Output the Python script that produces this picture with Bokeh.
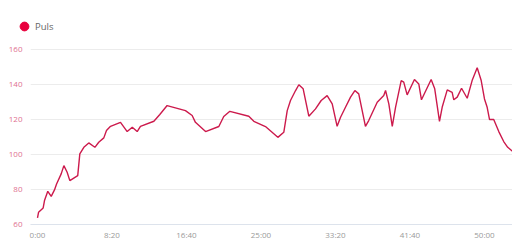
from bokeh.plotting import figure
from bokeh.layouts import column
from bokeh.models import ColumnDataSource, FixedTicker, Legend, LegendItem, Range1d
from bokeh.embed import file_html
from bokeh.resources import INLINE

# elapsed time in seconds
time_s = [0, 7, 38, 47, 69, 92, 114, 128, 159, 177, 199, 217, 270, 284, 311, 344, 385,
          411, 445, 463, 490, 557, 602, 636, 669, 691, 781, 821, 870, 993, 1038, 1060,
          1128, 1217, 1250, 1291, 1418, 1452, 1530, 1613, 1653, 1676, 1698, 1732, 1754,
          1783, 1821, 1866, 1904, 1944, 1978, 2011, 2034, 2067, 2101, 2130, 2156, 2201,
          2223, 2280, 2324, 2336, 2358, 2381, 2403, 2441, 2458, 2481, 2530, 2559, 2577,
          2642, 2666, 2698, 2716, 2750, 2783, 2794, 2817, 2846, 2884, 2917, 2951, 2978,
          3000, 3018, 3034, 3062, 3096, 3129, 3156, 3188]
# pulse (bpm)
pulse = [63.6, 66.8, 69.3, 73.5, 78.8, 75.9, 79.6, 83.0, 88.8, 93.5, 89.7, 84.9, 87.8,
         100.2, 104.0, 106.5, 104.0, 106.9, 109.4, 113.6, 116.0, 118.3, 113.0, 115.5,
         113.0, 116.0, 118.9, 122.8, 127.9, 125.0, 122.2, 118.3, 113.0, 115.9, 121.6,
         124.6, 121.8, 118.9, 115.9, 109.7, 112.6, 125.0, 130.8, 136.5, 139.8, 137.5,
         121.8, 126.0, 130.8, 133.6, 128.9, 116.0, 121.2, 126.9, 132.7, 136.5, 134.6,
         116.0, 119.3, 129.8, 133.6, 136.5, 128.9, 116.0, 126.9, 142.2, 141.3, 134.0,
         142.8, 140.3, 131.2, 142.8, 137.5, 118.9, 126.9, 136.9, 135.5, 131.2, 132.7,
         137.8, 132.1, 142.2, 149.5, 142.2, 131.7, 126.9, 119.9, 119.9, 113.0, 107.3,
         104.0, 101.7]

x_ticks = [0, 500, 1000, 1500, 2000, 2500, 3000]
x_tick_labels = ["0:00", "8:20", "16:40", "25:00", "33:20", "41:40", "50:00"]
y_ticks = [60, 80, 100, 120, 140, 160]
series_name = "Puls"

src = ColumnDataSource(dict(t=time_s, v=pulse))

# ---- legend strip ----
lg = figure(width=512, height=40, output_backend="svg", toolbar_location=None,
            x_axis_location=None, y_axis_location=None,
            x_range=Range1d(-47, 3188), y_range=Range1d(0, 1),
            min_border_left=0, min_border_right=0, min_border_top=0, min_border_bottom=0)
lg.outline_line_color = None
lg.xgrid.visible = False
lg.ygrid.visible = False
aligned = True
if "frame_align" in lg.properties():
    lg.frame_align = False
    aligned = False
dot = lg.scatter("t", "v", source=src, marker="circle", size=9,
                 fill_color="#e8003d", line_color="#e8003d")
dot.visible = False
legend = Legend(items=[LegendItem(label=series_name, renderers=[dot])],
                location=((-6, 3) if aligned else (13, 3)), orientation="horizontal",
                glyph_width=22, glyph_height=22, label_height=22,
                label_standoff=-4, padding=0, margin=0, spacing=0,
                border_line_color=None, background_fill_alpha=0,
                label_text_font="Open Sans", label_text_font_size="9.5px",
                label_text_color="#666666")
lg.add_layout(legend, "center")

# ---- chart ----
p = figure(width=512, height=207, output_backend="svg", toolbar_location=None,
           x_range=Range1d(-47, 3188), y_range=Range1d(59.8, 165.15),
           min_border_left=30, min_border_right=0, min_border_top=0, min_border_bottom=23)
p.outline_line_color = None
p.background_fill_color = "white"
p.border_fill_color = "white"

p.line("t", "v", source=src, line_color="#cc1a4c", line_width=1.4)

p.xgrid.visible = False
p.ygrid.grid_line_color = "#ececec"
p.ygrid.grid_line_width = 1

p.xaxis.ticker = FixedTicker(ticks=x_ticks)
p.xaxis.major_label_overrides = {t: l for t, l in zip(x_ticks, x_tick_labels)}
p.xaxis.axis_line_color = "#dde3ec"
p.xaxis.major_tick_line_color = None
p.xaxis.minor_tick_line_color = None
p.xaxis.major_tick_out = 0
p.xaxis.major_label_standoff = 4
p.xaxis.major_label_text_font = "Open Sans"
p.xaxis.major_label_text_font_size = "8px"
p.xaxis.major_label_text_color = "#9a9a9a"

p.yaxis.ticker = FixedTicker(ticks=y_ticks)
p.yaxis.axis_line_color = None
p.yaxis.major_tick_line_color = None
p.yaxis.minor_tick_line_color = None
p.yaxis.major_tick_out = 0
p.yaxis.major_label_standoff = 8
p.yaxis.major_label_text_font = "Open Sans"
p.yaxis.major_label_text_font_size = "8px"
p.yaxis.major_label_text_color = "#e0708f"

layout = column(lg, p, spacing=0)
open("out.html", "w").write(file_html(layout, INLINE))
